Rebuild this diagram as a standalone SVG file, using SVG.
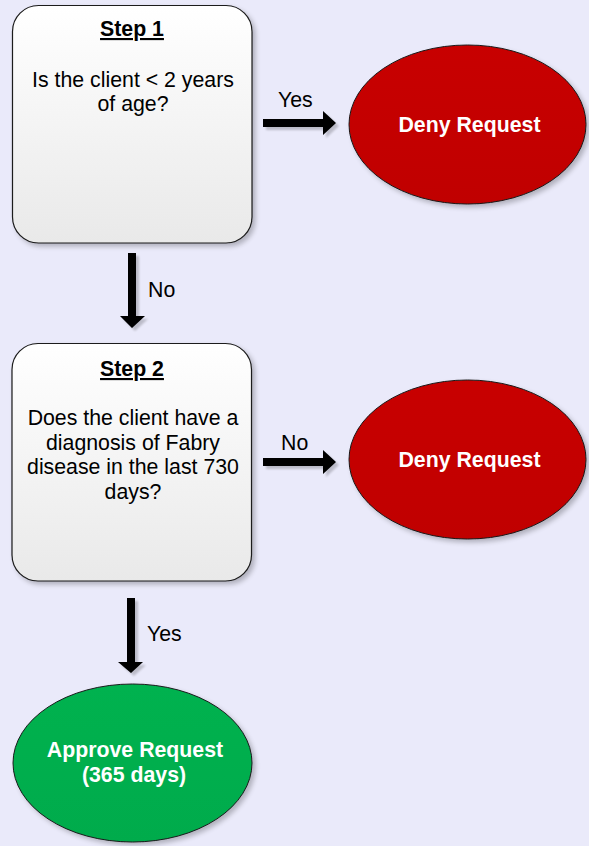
<svg xmlns="http://www.w3.org/2000/svg" width="589" height="846" viewBox="0 0 589 846">
<defs>
<linearGradient id="boxFill" x1="0" y1="0" x2="0" y2="1">
<stop offset="0" stop-color="#ffffff"/>
<stop offset="1" stop-color="#e9e9e9"/>
</linearGradient>
<linearGradient id="redFill" x1="0" y1="0" x2="0" y2="1">
<stop offset="0" stop-color="#c80000"/>
<stop offset="1" stop-color="#c00000"/>
</linearGradient>
<linearGradient id="greenFill" x1="0" y1="0" x2="0" y2="1">
<stop offset="0" stop-color="#00b24f"/>
<stop offset="1" stop-color="#00ab4c"/>
</linearGradient>
<filter id="shadow" x="-10%" y="-10%" width="125%" height="125%">
<feGaussianBlur in="SourceAlpha" stdDeviation="2.5"/>
<feOffset dx="3" dy="3" result="b"/>
<feComponentTransfer><feFuncA type="linear" slope="0.25"/></feComponentTransfer>
<feMerge><feMergeNode/><feMergeNode in="SourceGraphic"/></feMerge>
</filter>
<filter id="ashadow" x="-20%" y="-20%" width="150%" height="150%">
<feGaussianBlur in="SourceAlpha" stdDeviation="1.2"/>
<feOffset dx="3" dy="3" result="b"/>
<feComponentTransfer><feFuncA type="linear" slope="0.2"/></feComponentTransfer>
<feMerge><feMergeNode/><feMergeNode in="SourceGraphic"/></feMerge>
</filter>
</defs>
<style>
.box{fill:url(#boxFill);stroke:#1a1a1a;stroke-width:1.2;filter:url(#shadow)}
.red{fill:url(#redFill);stroke:#1a1a1a;stroke-width:1;filter:url(#shadow)}
.green{fill:url(#greenFill);stroke:#1a1a1a;stroke-width:1;filter:url(#shadow)}
.arrow{fill:#000000;filter:url(#ashadow)}
text{font-family:"Liberation Sans",Arial,sans-serif;font-size:21.3px;fill:#000000}
.c{text-anchor:middle}
.h{font-weight:bold;text-decoration:underline}
.w{font-weight:bold;fill:#ffffff}
</style>
<rect width="589" height="846" fill="#eaeafa"/>

<g id="connectors">
<polygon class="arrow" points="263,119 323,119 323,111 336,123 323,135 323,127 263,127"/>
<polygon class="arrow" points="263,458 323,458 323,450 336,462 323,474 323,466 263,466"/>
<polygon class="arrow" points="128,253 136,253 136,316 145,316 132,328 120,316 128,316"/>
<polygon class="arrow" points="127,598 135,598 135,662 143,662 131,673 118,662 127,662"/>
<text x="278" y="107">Yes</text>
<text x="281" y="450">No</text>
<text x="148" y="297">No</text>
<text x="147" y="641">Yes</text>
</g>

<g id="step1">
<rect class="box" x="12.5" y="5.5" width="239.5" height="237.5" rx="26" ry="26"/>
<text class="c h" x="132" y="36">Step 1</text>
<text class="c" x="133" y="87">Is the client &lt; 2 years</text>
<text class="c" x="133" y="111">of age?</text>
</g>

<g id="deny1">
<ellipse class="red" cx="467.5" cy="124.5" rx="118.5" ry="79.5"/>
<text class="c w" x="469.5" y="132">Deny Request</text>
</g>

<g id="step2">
<rect class="box" x="12" y="343.5" width="239.5" height="237.5" rx="26" ry="26"/>
<text class="c h" x="132" y="376">Step 2</text>
<text class="c" x="133" y="425">Does the client have a</text>
<text class="c" x="133" y="450">diagnosis of Fabry</text>
<text class="c" x="133" y="474">disease in the last 730</text>
<text class="c" x="133" y="499">days?</text>
</g>

<g id="deny2">
<ellipse class="red" cx="467.5" cy="459.5" rx="118.5" ry="79.5"/>
<text class="c w" x="469.5" y="467">Deny Request</text>
</g>

<g id="approve">
<ellipse class="green" cx="132.5" cy="763" rx="119.5" ry="79"/>
<text class="c w" x="135" y="757">Approve Request</text>
<text class="c w" x="134" y="782">(365 days)</text>
</g>
</svg>
